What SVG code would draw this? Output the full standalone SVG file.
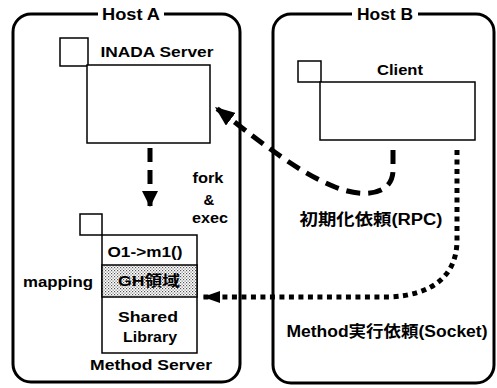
<svg xmlns="http://www.w3.org/2000/svg" width="497" height="388" viewBox="0 0 497 388">
<style>
.frame{fill:none;stroke:#000;stroke-width:3}
.box{fill:#fff;stroke:#000;stroke-width:1.5}
.t{font-family:"Liberation Sans","Noto Sans CJK JP",Arial,sans-serif;font-weight:bold;fill:#000;text-anchor:middle}
.dash{fill:none;stroke:#000;stroke-width:5;stroke-dasharray:14 8}
.dot{fill:none;stroke:#000;stroke-width:5;stroke-dasharray:5 4.5}
</style>
<defs>
<pattern id="stip" width="3" height="3" patternUnits="userSpaceOnUse">
<rect width="3" height="3" fill="#fff"/>
<rect x="0" y="0" width="1.2" height="1.2" fill="#555"/>
<rect x="1.5" y="1.5" width="1.2" height="1.2" fill="#777"/>
</pattern>
<marker id="ah" viewBox="0 0 16 16" refX="16" refY="8" markerWidth="16" markerHeight="16" markerUnits="userSpaceOnUse" orient="auto">
<polygon points="0,0 16,8 0,16" fill="#000"/>
</marker>
<marker id="ah2" viewBox="0 0 20 16" refX="20" refY="8" markerWidth="20" markerHeight="16" markerUnits="userSpaceOnUse" orient="auto">
<polygon points="0,0 20,8 0,16" fill="#000"/>
</marker>
<marker id="ah3" viewBox="0 0 17 12" refX="17" refY="6" markerWidth="17" markerHeight="12" markerUnits="userSpaceOnUse" orient="auto">
<polygon points="0,0 17,6 0,12" fill="#000"/>
</marker>
</defs>
<rect width="497" height="388" fill="#fff"/>

<g id="hostA">
<rect class="frame" x="13" y="14" width="227" height="368" rx="18"/>
<rect x="98" y="6" width="66" height="18" fill="#fff"/>
<text class="t" x="131" y="20" font-size="16" textLength="58" lengthAdjust="spacingAndGlyphs">Host A</text>
</g>

<g id="hostB">
<rect class="frame" x="273" y="14" width="221" height="369" rx="18"/>
<rect x="352" y="6" width="66" height="18" fill="#fff"/>
<text class="t" x="385" y="20" font-size="16" textLength="56" lengthAdjust="spacingAndGlyphs">Host B</text>
</g>

<g id="inadaServer">
<rect class="box" x="60" y="38" width="28" height="28"/>
<rect class="box" x="87" y="65" width="123" height="78" fill="none"/>
<text class="t" x="157" y="57" font-size="14" textLength="113" lengthAdjust="spacingAndGlyphs">INADA Server</text>
</g>

<g id="client">
<rect class="box" x="298" y="61" width="23" height="21"/>
<rect class="box" x="320" y="82" width="155" height="58" fill="none"/>
<text class="t" x="400" y="75" font-size="15" textLength="46" lengthAdjust="spacingAndGlyphs">Client</text>
</g>

<g id="methodServer">
<rect class="box" x="80" y="214" width="22" height="21"/>
<rect class="box" x="102" y="235" width="95" height="118"/>
<rect x="102" y="265" width="95" height="32" fill="url(#stip)" stroke="#000" stroke-width="1.5"/>
<text class="t" x="145" y="257" font-size="15" textLength="75" lengthAdjust="spacingAndGlyphs">O1-&gt;m1()</text>
<text class="t" x="149" y="286" font-size="15" textLength="62" lengthAdjust="spacingAndGlyphs">GH領域</text>
<text class="t" x="148" y="322" font-size="15" textLength="60" lengthAdjust="spacingAndGlyphs">Shared</text>
<text class="t" x="150" y="342" font-size="15" textLength="54" lengthAdjust="spacingAndGlyphs">Library</text>
<text class="t" x="151" y="370" font-size="15" textLength="122" lengthAdjust="spacingAndGlyphs">Method Server</text>
</g>

<g id="connectors">
<path class="dash" d="M150,148 L150,207" marker-end="url(#ah)"/>
<path class="dash" d="M393,150 L393,170 C393,196 362,198 335,187 C300,173 268,148 215,107" marker-end="url(#ah2)"/>
<path class="dot" d="M457,150 L457,240 C457,276 432,295 390,297 L203,297" marker-end="url(#ah3)"/>
</g>

<g id="labels">
<text class="t" x="208" y="183" font-size="15" textLength="31" lengthAdjust="spacingAndGlyphs">fork</text>
<text class="t" x="209" y="205" font-size="15">&amp;</text>
<text class="t" x="210" y="223" font-size="15" textLength="36" lengthAdjust="spacingAndGlyphs">exec</text>
<text class="t" x="58" y="287" font-size="15" textLength="70" lengthAdjust="spacingAndGlyphs">mapping</text>
<text class="t" x="371" y="225" font-size="16" textLength="143" lengthAdjust="spacingAndGlyphs">初期化依頼(RPC)</text>
<text class="t" x="387" y="337" font-size="16" textLength="201" lengthAdjust="spacingAndGlyphs">Method実行依頼(Socket)</text>
</g>
</svg>
